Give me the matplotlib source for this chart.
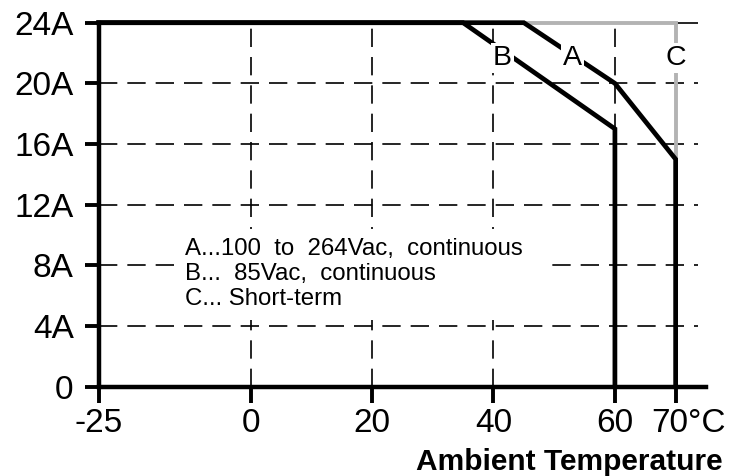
import numpy as np
import matplotlib
matplotlib.use("Agg")
import matplotlib.pyplot as plt
from matplotlib.transforms import ScaledTranslation

plt.rcParams['font.family'] = ['Liberation Sans', 'DejaVu Sans']

# derating curves (ambient temperature in degC, output current in A)
temp_A = [-25, 45, 60, 70, 70]
curr_A = [24, 24, 20, 15, 0]
temp_B = [-25, 35, 60, 60]
curr_B = [24, 24, 17, 0]
temp_C = [45, 70, 70]
curr_C = [24, 24, 15]

x_ticks = [-25, 0, 20, 40, 60, 70]
x_ticklabels = ['-25', '0', '20', '40', '60', '70°C']
y_ticks = [0, 4, 8, 12, 16, 20, 24]
y_ticklabels = ['0', '4A', '8A', '12A', '16A', '20A', '24A']
grid_x = [0, 20, 40, 60, 70]
grid_y = [4, 8, 12, 16, 20]
grid_top = 24

legend_lines = ['A...100  to  264Vac,  continuous',
                'B...  85Vac,  continuous',
                'C... Short-term']

fig = plt.figure(figsize=(7.32, 4.76), dpi=100)
ax = fig.add_axes([0.1348, 0.1876, 0.8297, 0.7966])
ax.set_xlim(-25, 75)
ax.set_ylim(0, 25)

dash = (0, (11, 6))
ax.hlines(grid_y, -25, 73.7, colors='black', linewidth=1.2, linestyles=[dash], zorder=1)
ax.hlines(grid_top, -25, 73.7, colors='black', linewidth=1.2, zorder=1)
ax.vlines(grid_x, 0, 24, colors='black', linewidth=1.2, linestyles=[dash], zorder=1)

# white patch behind the legend text
ax.fill_between([-12.4, 49.0], 4.4, 10.4, color='white', zorder=2, linewidth=0)

ax.plot(temp_C, curr_C, color='#b3b3b3', linewidth=2.8, zorder=3,
        solid_joinstyle='miter', clip_on=False)
ax.plot(temp_B, curr_B, color='black', linewidth=3.4, zorder=4,
        solid_joinstyle='miter', clip_on=False)
ax.plot(temp_A, curr_A, color='black', linewidth=3.4, zorder=4,
        solid_joinstyle='miter', clip_on=False)

lbl_kw = dict(fontsize=20.5, ha='center', va='baseline', zorder=5,
              bbox=dict(facecolor='white', edgecolor='none', pad=1.5))
ax.text(41.5, 21.2, 'B', **lbl_kw)
ax.text(53.0, 21.2, 'A', **lbl_kw)
ax.text(70.0, 21.2, 'C', **lbl_kw)

for i, line in enumerate(legend_lines):
    ax.text(-10.8, 8.68 - i * 1.65, line, fontsize=17.3, ha='left',
            va='baseline', zorder=5)

for s in ['top', 'right']:
    ax.spines[s].set_visible(False)
ax.spines['left'].set_linewidth(3.2)
ax.spines['bottom'].set_linewidth(3.2)
ax.spines['left'].set_bounds(0, 24)
ax.spines['left'].set_zorder(4)
ax.spines['bottom'].set_zorder(4)

ax.set_xticks(x_ticks)
ax.set_xticklabels(x_ticklabels)
ax.set_yticks(y_ticks)
ax.set_yticklabels(y_ticklabels)
ax.tick_params(axis='x', direction='out', length=11.5, width=2.8, pad=4, labelsize=24)
ax.tick_params(axis='y', direction='out', length=10, width=2.8, pad=8, labelsize=24)

lab70 = ax.get_xticklabels()[-1]
lab70.set_horizontalalignment('left')
lab70.set_transform(lab70.get_transform() + ScaledTranslation(-0.243, 0, fig.dpi_scale_trans))

fig.text(723 / 732, 1 - 470 / 476, 'Ambient Temperature', fontsize=21.5,
         fontweight='bold', ha='right', va='baseline')

fig.savefig('out.png', dpi=100)
